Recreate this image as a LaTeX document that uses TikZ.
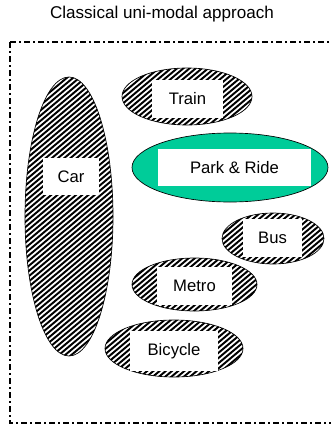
\documentclass[tikz,border=0pt]{standalone}
\usepackage{fontspec}
\setmainfont{Liberation Sans}
\usetikzlibrary{shapes.geometric,calc}
\definecolor{prgreen}{RGB}{0,204,153}
\tikzset{
  modeshape/.style={ellipse,draw=black,line width=0.5pt,inner sep=0pt,
    path picture={
      \foreach \k in {-45,...,45}
        \draw[line width=1.45pt]
          ($(path picture bounding box.center)+(\k*6.2-200,167.8)$) -- ++(400,-335.6);
    }},
  prshape/.style={ellipse,draw=black,line width=0.5pt,inner sep=0pt,fill=prgreen},
  lab/.style={fill=white,inner sep=0pt,font=\fontsize{12.5}{15}\selectfont},
  framebox/.style={line width=1.1pt,dash pattern=on 4.5pt off 2.25pt on 1.5pt off 2.25pt},
}
\begin{document}
\begin{tikzpicture}[x=0.75pt,y=-0.75pt]
\useasboundingbox (0,0) rectangle (331,425);
\begin{scope}
\clip (0,0) rectangle (331,425);
\draw[framebox] (10,42) rectangle (360,423);
\end{scope}
\node[font=\fontsize{12.8}{15}\selectfont] (title) at (162,14) {Classical uni-modal approach};
% modes
\node[modeshape,minimum width=66pt,minimum height=209.25pt] (car) at (69,216.5) {};
\node[lab,minimum width=42pt,minimum height=27.75pt] (carl) at (71,176.5) {Car};
\node[modeshape,minimum width=97.5pt,minimum height=42.75pt] (train) at (187,96.5) {};
\node[lab,minimum width=53.25pt,minimum height=28.5pt] (trainl) at (187.5,99) {Train};
\node[prshape,minimum width=147pt,minimum height=51.75pt] (pr) at (230,167.5) {};
\node[lab,minimum width=114.75pt,minimum height=27.75pt] (prl) at (234.5,167.5) {Park \& Ride};
\node[modeshape,minimum width=76.5pt,minimum height=38.25pt] (bus) at (273,238.5) {};
\node[lab,minimum width=44.25pt,minimum height=28.5pt] (busl) at (272.5,238) {Bus};
\node[modeshape,minimum width=93.75pt,minimum height=39.75pt] (metro) at (194.5,284.5) {};
\node[lab,minimum width=56.25pt,minimum height=28.5pt] (metrol) at (194.5,286) {Metro};
\node[modeshape,minimum width=103.5pt,minimum height=42.75pt] (bike) at (174,348.5) {};
\node[lab,minimum width=66pt,minimum height=30pt] (bikel) at (174,351) {Bicycle};
\end{tikzpicture}
\end{document}
